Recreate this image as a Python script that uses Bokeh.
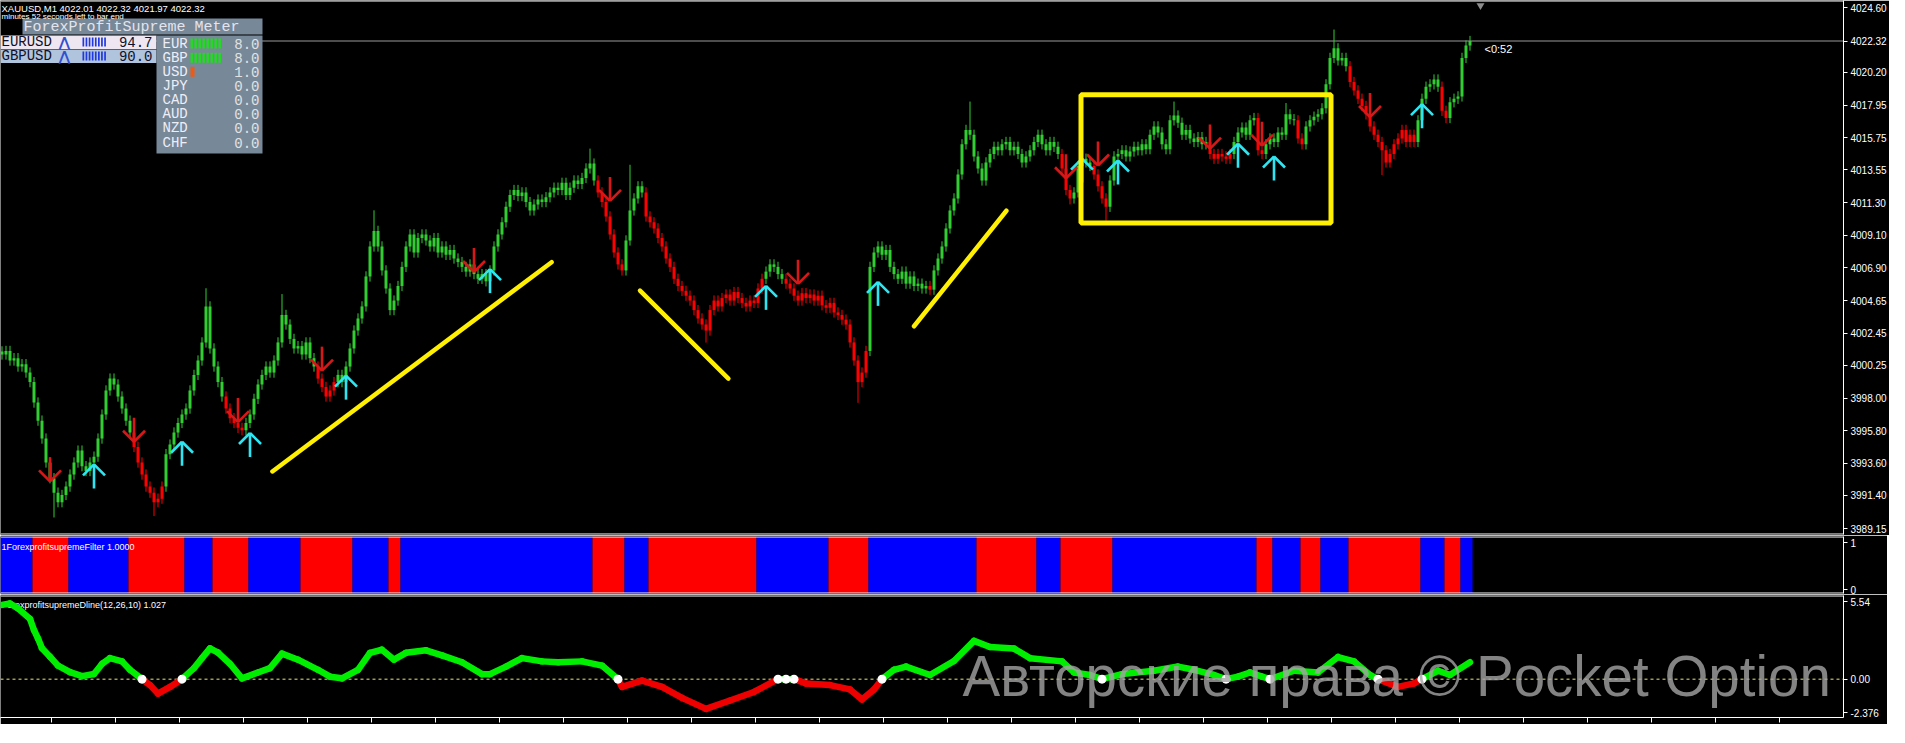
from bokeh.plotting import figure
from bokeh.models import Range1d, FixedTicker, PrintfTickFormatter, Label, Span
from bokeh.layouts import column
from bokeh.embed import file_html
from bokeh.resources import INLINE
from bokeh.core.properties import value

try:
    from bokeh.models import HTMLLabel as TagLabel
except ImportError:
    TagLabel = Label

# ---------------------------------------------------------------- data
header_text = "XAUUSD,M1  4022.01 4022.32 4021.97 4022.32"
timer_text = "minutes 52 seconds left to bar end"
countdown_text = "<0:52"
last_price = 4022.32
first_open = 4001.20

closes = [
    4000.99, 4001.23, 4000.58, 4000.74, 4000.17, 4000.33, 3999.76, 3999.11, 3997.72, 3996.49,
    3995.27, 3993.64, 3992.57, 3991.59, 3990.94, 3991.43, 3992.00, 3992.82, 3993.64, 3994.45,
    3993.39, 3993.06, 3993.64, 3994.04, 3995.27, 3996.90, 3998.54, 3999.35, 3998.95, 3998.13,
    3997.31, 3996.49, 3995.68, 3994.70, 3993.64, 3992.82, 3992.00, 3991.59, 3990.94, 3991.18,
    3992.00, 3994.21, 3994.86, 3995.68, 3996.33, 3996.90, 3997.31, 3998.54, 3999.60, 4000.58,
    4001.81, 4004.26, 4001.40, 4000.17, 3999.11, 3998.13, 3997.31, 3996.66, 3996.33, 3996.00,
    3995.84, 3996.33, 3996.90, 3997.97, 3998.95, 3999.60, 4000.17, 3999.76, 4000.58, 4001.81,
    4003.68, 4003.03, 4002.05, 4001.40, 4001.56, 4000.99, 4001.81, 4000.74, 4000.17, 3999.35,
    3998.78, 3998.13, 3998.54, 3999.11, 3999.60, 3999.11, 4000.17, 4001.40, 4002.62, 4003.44,
    4004.26, 4006.30, 4008.34, 4009.40, 4008.34, 4006.71, 4005.48, 4004.01, 4004.66, 4005.65,
    4006.95, 4008.34, 4009.16, 4007.93, 4008.91, 4009.16, 4008.75, 4008.34, 4008.91, 4007.93,
    4008.34, 4007.77, 4008.10, 4007.52, 4007.28, 4006.95, 4006.63, 4007.12, 4006.46, 4006.14,
    4006.46, 4005.97, 4006.71, 4008.34, 4009.16, 4009.98, 4011.04, 4011.85, 4012.18, 4011.77,
    4012.02, 4011.36, 4010.79, 4011.20, 4011.53, 4011.36, 4011.69, 4012.02, 4012.34, 4012.18,
    4012.67, 4011.85, 4012.34, 4012.83, 4012.59, 4013.00, 4013.65, 4013.98, 4012.83, 4012.02,
    4011.36, 4010.38, 4009.16, 4007.93, 4007.12, 4006.71, 4008.75, 4010.79, 4011.61, 4012.43,
    4012.02, 4010.38, 4009.98, 4009.57, 4008.91, 4008.34, 4007.52, 4006.95, 4006.14, 4005.65,
    4005.32, 4004.99, 4004.66, 4004.01, 4003.44, 4003.03, 4002.62, 4004.01, 4004.66, 4004.26,
    4004.83, 4005.07, 4004.66, 4005.24, 4004.83, 4004.50, 4004.26, 4004.66, 4004.50, 4005.48,
    4006.14, 4006.63, 4007.12, 4006.95, 4006.46, 4006.14, 4005.81, 4005.48, 4004.99, 4004.66,
    4005.16, 4004.83, 4005.07, 4004.66, 4004.99, 4004.34, 4004.17, 4004.50, 4003.85, 4003.68,
    4003.36, 4003.03, 4001.81, 4000.58, 3999.11, 3999.76, 4001.23, 4006.95, 4007.93, 4008.34,
    4007.77, 4008.10, 4006.95, 4006.46, 4006.14, 4006.63, 4005.81, 4006.30, 4005.65, 4005.81,
    4005.48, 4005.65, 4005.40, 4006.71, 4007.52, 4008.34, 4009.57, 4010.79, 4011.61, 4013.24,
    4015.29, 4016.27, 4015.94, 4014.47, 4013.65, 4012.83, 4014.06, 4014.63, 4015.12, 4014.88,
    4015.29, 4015.45, 4014.88, 4015.12, 4014.63, 4014.06, 4014.47, 4014.88, 4015.45, 4015.94,
    4015.29, 4014.88, 4015.45, 4015.12, 4014.63, 4013.65, 4012.18, 4011.61, 4012.02, 4013.82,
    4014.31, 4014.06, 4013.82, 4013.24, 4012.43, 4011.61, 4011.04, 4012.83, 4014.47, 4014.63,
    4014.88, 4014.47, 4014.80, 4015.12, 4014.88, 4015.29, 4014.96, 4015.94, 4016.51, 4016.10,
    4015.29, 4014.96, 4016.92, 4017.25, 4016.76, 4015.94, 4016.27, 4015.69, 4015.45, 4015.78,
    4015.29, 4015.45, 4014.63, 4014.31, 4014.63, 4014.47, 4014.31, 4014.63, 4015.45, 4016.10,
    4016.43, 4015.94, 4016.92, 4017.08, 4014.88, 4014.63, 4015.29, 4015.69, 4015.45, 4016.10,
    4015.94, 4017.33, 4017.00, 4016.92, 4015.69, 4015.29, 4016.51, 4016.92, 4017.17, 4017.33,
    4017.74, 4019.37, 4021.17, 4021.82, 4021.00, 4021.17, 4020.60, 4019.53, 4018.96, 4018.39,
    4017.90, 4017.33, 4016.51, 4015.94, 4015.45, 4014.88, 4014.06, 4014.63, 4015.29, 4015.69,
    4016.27, 4015.45, 4015.94, 4015.45, 4016.92, 4018.39, 4019.21, 4019.37, 4019.70, 4019.21,
    4017.57, 4017.08, 4018.15, 4018.39, 4018.55, 4021.17, 4022.01, 4022.32,
]
high_spikes = {51: 4005.5, 70: 4005.1, 93: 4010.8, 147: 4015.0, 157: 4013.9,
               242: 4018.2, 293: 4018.2, 321: 4018.1, 333: 4023.1}
low_spikes = {13: 3989.9, 38: 3990.0, 176: 4001.8, 214: 3997.7, 267: 4011.2,
              276: 4010.1, 345: 4013.2}
red_candle_ranges = [(33, 40), (56, 60), (79, 83), (149, 155), (161, 190), (196, 216),
                     (232, 232), (265, 267), (273, 276), (302, 307), (314, 315),
                     (324, 325), (337, 353), (360, 361)]

down_arrow_idx = [12, 33, 59, 80, 118, 152, 199, 266, 274, 302, 315, 342]
down_arrow_tip = [3992.36, 3995.05, 3996.39, 3999.89, 4006.60, 4011.44, 4005.80,
                  4012.98, 4013.85, 4015.00, 4015.20, 4017.15]
up_arrow_idx = [23, 45, 62, 86, 122, 191, 219, 270, 279, 309, 318, 355]
up_arrow_tip = [3993.51, 3995.05, 3995.65, 3999.55, 4006.80, 4005.66, 4005.93,
                4014.32, 4014.19, 4015.33, 4014.46, 4018.02]

trend_x0 = [67.6, 159.5, 228.0]
trend_y0 = [3993.03, 4005.33, 4002.91]
trend_x1 = [137.4, 181.6, 251.1]
trend_y1 = [4007.27, 3999.35, 4010.77]
box_left, box_right, box_bottom, box_top = 269.75, 332.25, 4009.93, 4018.66

price_ticks = [4024.60, 4020.20, 4017.95, 4015.75, 4013.55, 4011.30, 4009.10, 4006.90,
               4004.65, 4002.45, 4000.25, 3998.00, 3995.80, 3993.60, 3991.40, 3989.15]

filter_title = "1ForexprofitsupremeFilter 1.0000"
filter_run_start = [0, 8, 17, 32, 46, 53, 62, 75, 88, 97, 100, 148, 156, 162, 189, 207,
                    217, 244, 259, 265, 278, 314, 318, 325, 330, 337, 355, 361, 365]
filter_run_value = [1, 0, 1, 0, 1, 0, 1, 0, 1, 0, 1, 0, 1, 0, 1, 0,
                    1, 0, 1, 0, 1, 0, 1, 0, 1, 0, 1, 0, 1]
filter_ticks = [0, 1]

dline_title = "ForexprofitsupremeDline(12,26,10) 1.027"
dl_idx = [0, 2, 4, 7, 8, 9, 10, 12, 14, 17, 20, 23, 25, 27, 30, 32, 35, 37, 39, 42,
          45, 48, 50, 52, 54, 57, 60, 64, 67, 70, 74, 79, 82, 85, 89, 92, 95, 98, 101, 106,
          110, 115, 120, 122, 126, 130, 135, 139, 145, 150, 154, 155, 160, 165, 170, 176, 182, 188, 194, 196,
          198, 201, 207, 212, 215, 218, 220, 223, 226, 232, 238, 243, 247, 253, 257, 265, 268, 272, 275, 280,
          288, 294, 298, 303, 306, 309, 312, 315, 317, 323, 329, 334, 338, 342, 344, 349, 353, 355, 359, 362,
          367]
dl_val = [5.30, 5.40, 5.05, 4.30, 3.50, 2.90, 2.20, 1.60, 0.97, 0.50, 0.22, 0.37, 1.09, 1.50, 1.27, 0.67, 0.00, -0.42, -1.03, -0.55,
          0.00, 0.79, 1.50, 2.20, 1.90, 1.10, 0.06, 0.48, 0.79, 1.82, 1.39, 0.67, 0.18, 0.06, 0.67, 1.88, 2.10, 1.39, 1.88, 2.06,
          1.70, 1.21, 0.36, 0.36, 0.90, 1.50, 1.27, 1.21, 1.27, 0.97, 0.00, -0.55, -0.10, -0.55, -1.33, -2.12, -1.52, -0.91, 0.00, 0.00,
          0.00, -0.30, -0.42, -0.73, -1.45, -0.73, 0.00, 0.67, 0.90, 0.30, 1.30, 2.73, 2.30, 2.18, 1.50, 1.27, 0.48, 0.30, 0.00, 0.36,
          0.60, 0.90, 0.67, 0.30, 0.00, 0.18, 0.48, 0.18, 0.00, 0.60, 0.48, 1.58, 1.27, 0.30, 0.00, -0.55, -0.30, 0.00, 0.60, 0.30,
          1.21]
dl_white = [35, 45, 154, 194, 196, 198, 220, 275, 306, 317, 344, 355]
dl_max, dl_min = 5.54, -2.376

meter_title = "ForexProfitSupreme Meter"
meter_pairs = ["EURUSD", "GBPUSD"]
meter_pair_vals = [94.7, 90.0]
meter_pair_bars = [8, 8]
meter_ccy = ["EUR", "GBP", "USD", "JPY", "CAD", "AUD", "NZD", "CHF"]
meter_ccy_vals = [8.0, 8.0, 1.0, 0.0, 0.0, 0.0, 0.0, 0.0]

watermark = "Авторские права © Pocket Option"

# ---------------------------------------------------------------- layout helpers
PX = 4.0
FW = 1843
RB = 44
X0 = -0.375
xr = Range1d(X0, X0 + FW / PX)


def fx(px):
    return X0 + px / PX


MAIN_H = 534
_scale = (MAIN_H - 13) / (price_ticks[0] - price_ticks[-1])   # px per price unit
M_TOP = price_ticks[0] + 7 / _scale
M_BOT = M_TOP - MAIN_H / _scale
PPX = (M_TOP - M_BOT) / MAIN_H


def my(py):
    return M_TOP - py * PPX


GREEN = "#32CD32"
RED = "#FF0000"
YEL = "#FFEF00"
FONT = "Liberation Sans"
MONO = "Liberation Mono"


def base_fig(fh, yr, top, bottom, xaxis=False):
    f = figure(frame_width=FW, frame_height=fh, x_range=xr, y_range=yr,
               output_backend="svg", toolbar_location=None,
               background_fill_color="black", border_fill_color="black",
               outline_line_color=None,
               min_border_left=0, min_border_right=RB,
               min_border_top=top, min_border_bottom=bottom,
               x_axis_location=("below" if xaxis else None),
               y_axis_location="right")
    f.grid.visible = False
    ya = f.yaxis[0]
    ya.axis_line_color = "white"
    ya.major_tick_line_color = "white"
    ya.major_tick_out = 4
    ya.major_tick_in = 0
    ya.minor_tick_line_color = None
    ya.major_label_text_color = "white"
    ya.major_label_text_font = FONT
    ya.major_label_text_font_size = "10px"
    ya.major_label_standoff = 3
    return f


# ---------------------------------------------------------------- main chart
main = base_fig(MAIN_H, Range1d(M_BOT, M_TOP), 0, 1)
main.yaxis[0].ticker = FixedTicker(ticks=sorted(price_ticks + [last_price]))
main.yaxis[0].formatter = PrintfTickFormatter(format="%.2f")

main.add_layout(Span(location=last_price, dimension="width", line_color="#9a9a9a",
                     line_width=1, level="underlay"))

n = len(closes)
xs = list(range(n))
opens = [first_open] + closes[:-1]
is_red = [False] * n
for a, b in red_candle_ranges:
    for k in range(a, b + 1):
        is_red[k] = True
ccol = [RED if r else GREEN for r in is_red]
btop = [max(o, c) for o, c in zip(opens, closes)]
bbot = [min(o, c) for o, c in zip(opens, closes)]
for k in range(n):
    if btop[k] - bbot[k] < PPX:
        btop[k] = bbot[k] + PPX
highs = [t + 0.35 for t in btop]
lows = [b - 0.35 for b in bbot]
for k, v in high_spikes.items():
    highs[k] = max(highs[k], v)
for k, v in low_spikes.items():
    lows[k] = min(lows[k], v)

main.segment(xs, lows, xs, highs, line_color=ccol, line_width=1)
main.vbar(x=xs, width=0.75, top=btop, bottom=bbot, fill_color=ccol, line_color=None)

# signal arrows
STEM = 24 * PPX
ARM_X = 11 / PX
ARM_Y = 11 * PPX


def arrow_segs(idx, tip, up):
    sgn = -1 if up else 1
    x0, y0, x1, y1 = [], [], [], []
    for i, t in zip(idx, tip):
        x0 += [i, i - ARM_X, i + ARM_X]
        y0 += [t + sgn * STEM, t + sgn * ARM_Y, t + sgn * ARM_Y]
        x1 += [i, i, i]
        y1 += [t, t, t]
    return x0, y0, x1, y1


dx0, dy0, dx1, dy1 = arrow_segs(down_arrow_idx, down_arrow_tip, False)
main.segment(dx0, dy0, dx1, dy1, line_color="#D81818", line_width=2.6)
ux0, uy0, ux1, uy1 = arrow_segs(up_arrow_idx, up_arrow_tip, True)
main.segment(ux0, uy0, ux1, uy1, line_color="#2EE6F2", line_width=2.6)

# hand-drawn trend lines and box
main.segment(trend_x0, trend_y0, trend_x1, trend_y1, line_color=YEL, line_width=4.5,
             line_cap="round")
main.quad(left=[box_left], right=[box_right], top=[box_top], bottom=[box_bottom],
          fill_color=None, line_color=YEL, line_width=5)

# header / timer texts
main.text(x=[fx(1)], y=[my(8)], text=[header_text], text_font=value(FONT),
          text_font_size="9.5px", text_color="white", text_baseline="middle")

# strength meter panel
q_l = [fx(22), fx(0), fx(0), fx(156)]
q_r = [fx(262), fx(156), fx(156), fx(262)]
q_t = [my(18), my(35), my(49), my(35)]
q_b = [my(34), my(48.5), my(62.5), my(153)]
q_c = ["#778899", "#EEE6F1", "#B0C4DE", "#778899"]
main.quad(left=q_l, right=q_r, top=q_t, bottom=q_b, fill_color=q_c, line_color=None)
main.text(x=[fx(1)], y=[my(15.5)], text=[timer_text], text_font=value(FONT),
          text_font_size="8px", text_color="white", text_baseline="middle")
main.text(x=[fx(23)], y=[my(26.5)], text=[meter_title], text_font=value(MONO),
          text_font_size="15px", text_color="#E4E4EC", text_baseline="middle")

row_y = [my(41.5 + 14 * r) for r in range(len(meter_pairs))]
main.text(x=[fx(1)] * len(meter_pairs), y=row_y, text=meter_pairs, text_font=value(MONO),
          text_font_size="14px", text_color="#101028", text_baseline="middle")
main.text(x=[fx(58)] * len(meter_pairs), y=row_y, text=["⋀"] * len(meter_pairs),
          text_font=value("DejaVu Sans"), text_font_size="14px", text_color="#3050D0",
          text_baseline="middle", text_font_style="bold")
main.text(x=[fx(152)] * len(meter_pairs), y=row_y, text=["%.1f" % v for v in meter_pair_vals],
          text_font=value(MONO), text_font_size="14px", text_color="#101028",
          text_baseline="middle", text_align="right")
bl, br, bt, bb = [], [], [], []
for r, nb in enumerate(meter_pair_bars):
    yc = 41.5 + 14 * r
    for k in range(nb):
        bl.append(fx(82 + 3.1 * k))
        br.append(fx(83.7 + 3.1 * k))
        bt.append(my(yc - 4.5))
        bb.append(my(yc + 4.5))
main.quad(left=bl, right=br, top=bt, bottom=bb, fill_color="#2038E0", line_color=None)

ccy_y = [my(43 + 14.15 * k) for k in range(len(meter_ccy))]
main.text(x=[fx(162)] * len(meter_ccy), y=ccy_y, text=meter_ccy, text_font=value(MONO),
          text_font_size="14px", text_color="#EEEEF8", text_baseline="middle")
main.text(x=[fx(259)] * len(meter_ccy), y=ccy_y, text=["%.1f" % v for v in meter_ccy_vals],
          text_font=value(MONO), text_font_size="14px", text_color="#E2E2E2",
          text_baseline="middle", text_align="right")
sl, sr, st, sb, sc = [], [], [], [], []
for k, v in enumerate(meter_ccy_vals):
    yc = 43 + 14.15 * k
    if v >= 4:
        for j in range(int(v)):
            sl.append(fx(190 + 4 * j)); sr.append(fx(192.6 + 4 * j))
            st.append(my(yc - 5)); sb.append(my(yc + 5)); sc.append("#26D826")
    elif v > 0:
        for j in range(int(v)):
            sl.append(fx(190 + 5 * j)); sr.append(fx(194 + 5 * j))
            st.append(my(yc - 5)); sb.append(my(yc + 5)); sc.append("#F05A14")
main.quad(left=sl, right=sr, top=st, bottom=sb, fill_color=sc, line_color=None)

main.text(x=[fx(1484)], y=[my(48)], text=[countdown_text], text_font=value(FONT),
          text_font_size="11px", text_color="white", text_baseline="middle")
main.scatter(x=[fx(1480)], y=[my(5)], marker="inverted_triangle", size=8,
             fill_color="#8c8c8c", line_color=None)

main.add_layout(Span(location=my(0.5), dimension="width", line_color="white", line_width=1))
main.add_layout(Span(location=my(MAIN_H - 0.5), dimension="width", line_color="white", line_width=1))
# current-price tag on the price scale (white box, if the HTML label is available)
main.add_layout(TagLabel(x=FW + 3, y=last_price, x_units="screen", y_units="data",
                         text="%.2f" % last_price,
                         text_font=FONT, text_font_size="10px", text_color="black",
                         background_fill_color="white", text_baseline="middle",
                         text_align="left"))

# ---------------------------------------------------------------- filter panel
F_H = 57
F_S = (F_H - 10) / 1.0
F_TOP = 1 + 6 / F_S
F_BOT = 0 - 4 / F_S
FPX = (F_TOP - F_BOT) / F_H
filt = base_fig(F_H, Range1d(F_BOT, F_TOP), 1, 1)
filt.yaxis[0].ticker = FixedTicker(ticks=filter_ticks)
ends = filter_run_start[1:] + [n]
filt.quad(left=[s + X0 for s in filter_run_start], right=[e + X0 for e in ends],
          top=F_TOP, bottom=F_BOT,
          fill_color=["#0000FF" if v else "#FF0000" for v in filter_run_value],
          line_color=None)
filt.text(x=[fx(1)], y=[F_TOP - 10 * FPX], text=[filter_title], text_font=value(FONT),
          text_font_size="9px", text_color="white", text_baseline="middle")
filt.add_layout(Span(location=F_TOP - 0.5 * FPX, dimension="width", line_color="white", line_width=1))
filt.add_layout(Span(location=F_BOT + 0.5 * FPX, dimension="width", line_color="white", line_width=1))

# ---------------------------------------------------------------- Dline panel
D_H = 122
D_S = (D_H - 11) / (dl_max - dl_min)
D_TOP = dl_max + 6 / D_S
D_BOT = dl_min - 5 / D_S
DPX = 1 / D_S
dl = base_fig(D_H, Range1d(D_BOT, D_TOP), 1, 7, xaxis=True)
dl.yaxis[0].ticker = FixedTicker(ticks=[dl_max, 0, dl_min])
dl.yaxis[0].major_label_overrides = {dl_max: "5.54", 0: "0.00", dl_min: "-2.376"}
xa = dl.xaxis[0]
xa.ticker = FixedTicker(ticks=[12.4 + 16 * k for k in range(29)])
xa.axis_line_color = "white"
xa.major_tick_line_color = "white"
xa.major_tick_out = 5
xa.major_tick_in = 0
xa.minor_tick_line_color = None
xa.major_label_text_font_size = "1px"
xa.major_label_text_color = None
xa.major_label_standoff = 0

dl.add_layout(Span(location=0, dimension="width", line_color="#E6E67A", line_width=1,
                   line_dash="3 3", level="underlay"))
dl.text(x=[fx(1)], y=[D_TOP - 9 * DPX], text=[dline_title], text_font=value(FONT),
        text_font_size="9px", text_color="white", text_baseline="middle")
sy0, sy1 = dl_val[:-1], dl_val[1:]
seg_c = ["#EE0000" if min(a, b) < 0 else "#00EE00" for a, b in zip(sy0, sy1)]
dl.segment(dl_idx[:-1], sy0, dl_idx[1:], sy1, line_color=seg_c, line_width=6.5,
           line_cap="round")
wy = [dl_val[dl_idx.index(i)] for i in dl_white]
dl.scatter(dl_white, wy, size=9, fill_color="white", line_color=None)
dl.add_layout(Span(location=D_TOP - 0.5 * DPX, dimension="width", line_color="white", line_width=1))
zero_from_bottom = (0 - D_BOT) * D_S
dl.add_layout(Label(x=962, y=zero_from_bottom + 3, x_units="screen", y_units="screen",
                    text=watermark, text_font=FONT,
                    text_font_size="56.5px", text_color="#a4a4a4", text_alpha=0.8,
                    text_baseline="middle", text_align="left"))

layout = column(main, filt, dl, spacing=0)
open("out.html", "w").write(file_html(layout, INLINE))
